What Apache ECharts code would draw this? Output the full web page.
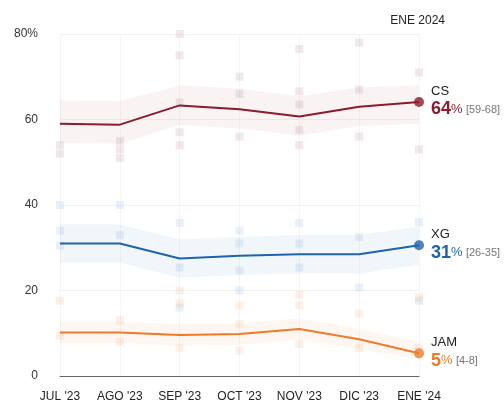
<!DOCTYPE html>
<html><head><meta charset="utf-8">
<script src="https://cdn.jsdelivr.net/npm/echarts@6/dist/echarts.min.js"></script>
<style>html,body{margin:0;padding:0;background:#fff}#c{width:504px;height:407px}</style>
</head><body><div id="c"></div>
<script>
const months = ["JUL '23","AGO '23","SEP '23","OCT '23","NOV '23","DIC '23","ENE '24"];
const yTicks = [0,20,40,60,80];
const csLine = [59.0,58.8,63.3,62.4,60.7,63.0,64.1];
const csLow  = [54.5,54.3,58.8,57.9,56.2,58.5,59];
const csHigh = [64.5,64.3,68.0,67.2,65.5,67.5,68];
const xgLine = [31.0,31.0,27.5,28.1,28.5,28.5,30.6];
const xgLow  = [26.5,26.5,23.0,23.6,24.0,24.0,26];
const xgHigh = [35.5,35.5,32.0,32.6,33.0,33.0,35];
const jamLine = [10.2,10.2,9.6,9.8,11.0,8.6,5.3];
const jamLow  = [7.7,7.7,7.1,7.3,8.5,6.3,4];
const jamHigh = [12.7,12.7,12.1,12.3,13.5,11.0,8];
const csPolls = [[0,54],[0,52],[1,55],[1,53],[1,51],[2,80],[2,75],[2,64],[2,57],[2,54],[3,70],[3,66],[3,56],[4,76.5],[4,66.6],[4,63.5],[4,57.6],[4,54],[5,78],[5,67],[5,56],[6,71],[6,53]];
const xgPolls = [[0,40],[0,34],[0,30.5],[1,40],[1,33],[2,35.8],[2,25.4],[2,16],[3,34],[3,31],[3,24.7],[3,20],[4,35.8],[4,31],[4,25.4],[5,32.5],[5,20.7],[6,36],[6,17.6]];
const jamPolls = [[0,17.6],[0,9.4],[1,13],[1,8],[2,20],[2,17],[2,6.6],[3,16.5],[3,12.2],[3,5.9],[4,19],[4,16.5],[4,7.5],[5,14.6],[5,6.6],[6,18.4],[6,6.6]];
const names = ["CS","XG","JAM"];
const endValues = [64,31,5];
const ranges = ["[59-68]","[26-35]","[4-8]"];
const colors = ["#8a1c2e","#1f63ad","#f07a2a"];

const lines=[csLine,xgLine,jamLine], lows=[csLow,xgLow,jamLow], highs=[csHigh,xgHigh,jamHigh], polls=[csPolls,xgPolls,jamPolls];
const bandFill = ["rgba(200,120,130,0.12)","rgba(90,150,210,0.12)","rgba(245,160,90,0.12)"];
const dotCol = ["#a07078","#7aa0cc","#f0a070"];
const series=[];
for(let i=0;i<3;i++){
  series.push({type:'line',stack:'b'+i,data:lows[i],symbol:'none',lineStyle:{opacity:0},silent:true,z:1});
  series.push({type:'line',stack:'b'+i,data:highs[i].map((v,k)=>+(v-lows[i][k]).toFixed(2)),symbol:'none',lineStyle:{opacity:0},areaStyle:{color:bandFill[i]},silent:true,z:1});
  series.push({type:'scatter',data:polls[i],symbol:'rect',symbolSize:8,itemStyle:{color:dotCol[i],opacity:0.16},z:2});
  series.push({type:'line',data:lines[i],symbol:'none',lineStyle:{color:colors[i],width:2},z:5,
    endLabel:{show:true,offset:[4,-2],formatter:()=>'{n|'+names[i]+'}\n{v|'+endValues[i]+'}{p|%} {r|'+ranges[i]+'}',
      rich:{n:{fontSize:13,color:'#222',fontFamily:'Liberation Sans',lineHeight:19},
            v:{fontSize:18,fontWeight:'bold',color:colors[i],fontFamily:'Liberation Sans'},
            p:{fontSize:13,color:colors[i],fontFamily:'Liberation Sans'},
            r:{fontSize:11,color:'#777',fontFamily:'Liberation Sans'}}}});
  series.push({type:'scatter',data:[[6,lines[i][6]]],symbol:'circle',symbolSize:10,itemStyle:{color:colors[i]},z:6});
}
const chart=echarts.init(document.getElementById('c'));
chart.setOption({
  animation:false,
  grid:{left:60,right:85,top:34,bottom:31},
  title:{text:'ENE 2024',right:54,top:10,textStyle:{fontSize:12,fontWeight:'normal',color:'#222',fontFamily:'Liberation Sans'}},
  xAxis:{type:'category',data:months,boundaryGap:false,
    axisLine:{lineStyle:{color:'#666'}},axisTick:{show:false},
    axisLabel:{color:'#222',fontSize:12,margin:15,fontFamily:'Liberation Sans'},
    splitLine:{show:true,lineStyle:{color:'#f5f5f5'}}},
  yAxis:{type:'value',min:0,max:80,interval:20,
    axisLabel:{color:'#333',fontSize:12,margin:22,fontFamily:'Liberation Sans',formatter:v=>v===yTicks[yTicks.length-1]?v+'%':''+v},
    splitLine:{lineStyle:{color:'#f1f1f1'}},axisLine:{show:false},axisTick:{show:false}},
  series:series
});
</script></body></html>
